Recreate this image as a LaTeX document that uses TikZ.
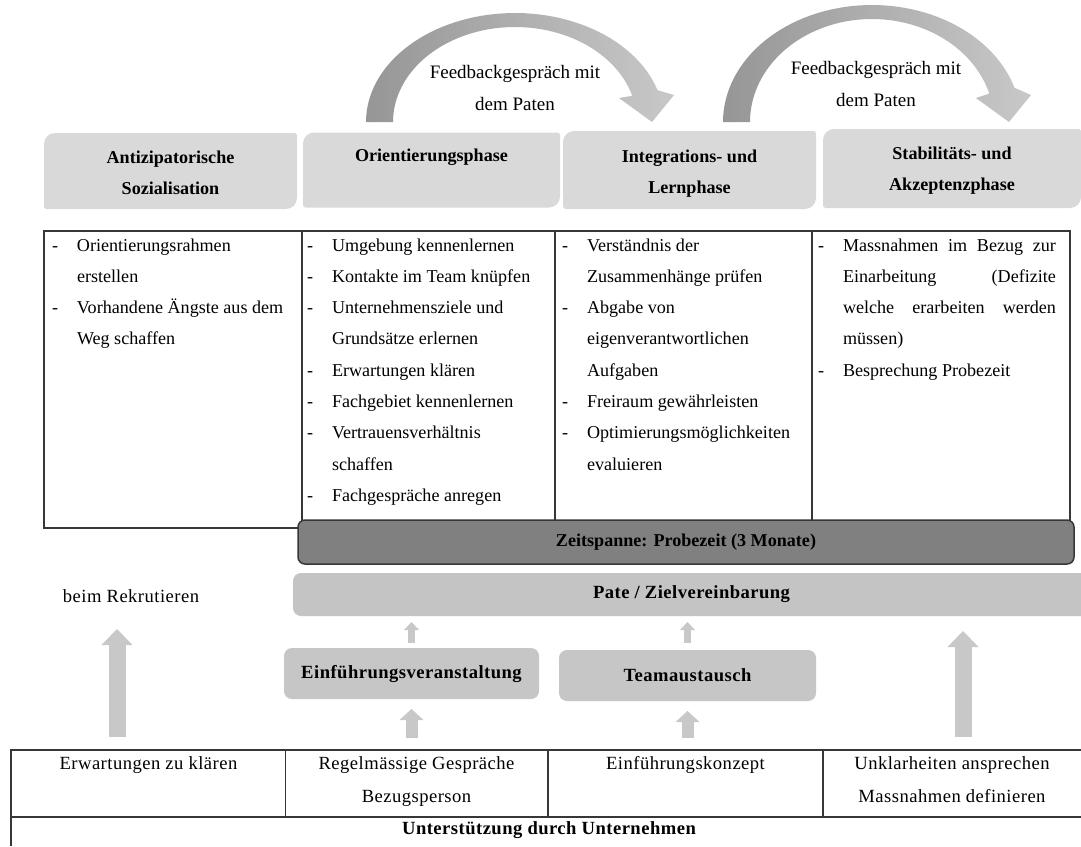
\documentclass[tikz,border=0pt]{standalone}
\usepackage{fontspec}
\setmainfont{Liberation Serif}
\usetikzlibrary{arrows.meta,backgrounds}
\definecolor{hdr}{RGB}{217,217,217}
\definecolor{patec}{RGB}{196,196,196}
\definecolor{eboxc}{RGB}{198,198,198}
\definecolor{arr}{RGB}{200,200,200}
\definecolor{darkc}{RGB}{128,128,128}
\definecolor{darkline}{RGB}{55,55,55}
\definecolor{tline}{RGB}{55,55,55}
\definecolor{fbl}{RGB}{150,150,150}
\definecolor{fbr}{RGB}{200,200,200}
\newcommand{\fsA}{\fontsize{18.1pt}{31.3pt}\selectfont}
\newcommand{\fsB}{\fontsize{18.6pt}{33pt}\selectfont\addfontfeature{LetterSpace=2.5}}
\newcommand{\fsC}{\fontsize{19pt}{32pt}\selectfont}
\newcommand{\dsh}{\makebox[25pt][l]{-}}
\newcommand{\nod}{\hspace*{25pt}}
\newcommand{\jl}[1]{\makebox[213pt][s]{#1}}
\newcommand{\hdrshape}[1]{%
  \fill[hdr] ([yshift=2pt]#1.south west) -- ([yshift=-11pt]#1.north west)
    .. controls ([yshift=-5pt]#1.north west) and ([xshift=5pt]#1.north west) .. ([xshift=11pt]#1.north west)
    -- ([xshift=-2pt]#1.north east) -- ([yshift=-2pt]#1.north east) -- ([yshift=11pt]#1.south east)
    .. controls ([yshift=5pt]#1.south east) and ([xshift=-5pt]#1.south east) .. ([xshift=-11pt]#1.south east)
    -- ([xshift=2pt]#1.south west) -- cycle;}
\newcommand{\fbarrow}[3]{%
  \shade[left color=fbl,right color=fbr]
    plot[domain=180:17,samples=60] ({#1+149*cos(\x)},{122-#2*sin(\x)})
    -- ({#1+159},95) -- ({#1+137},122) -- ({#1+104},98)
    -- plot[domain=16:180,samples=60] ({#1+122*cos(\x)},{122-#3*sin(\x)})
    -- cycle;}
\begin{document}
\begin{tikzpicture}[x=1pt,y=-1pt,
  every node/.style={inner sep=0pt,outer sep=0pt},
  hdrbox/.style={minimum height=#1},
  hdrtext/.style={align=center,font=\bfseries\fsA,anchor=north},
  cellt/.style={align=left,font=\fsA,anchor=north west},
  btext/.style={align=center,font=\fsB,anchor=north},
  fbtext/.style={align=center,font=\fsC,anchor=north},
  tbl/.style={draw=tline,line width=1.3pt},
  ebox/.style={fill=eboxc,rounded corners=8pt,font=\bfseries\fsB,minimum height=51pt},
  bigarrow/.style={draw=arr,line width=17pt,-{Triangle[width=31pt,length=16pt,line width=0pt]}},
  medarrow/.style={draw=arr,line width=12pt,-{Triangle[width=24pt,length=11pt,line width=0pt]}},
  smallarrow/.style={draw=arr,line width=7pt,-{Triangle[width=15pt,length=8pt,line width=0pt]}}]
\useasboundingbox (0,0) rectangle (1081,846);

% ---------- feedback arrows ----------
\fbarrow{515}{109}{95}
\fbarrow{872}{117}{103}
\node[fbtext] (fb1) at (515,65) {Feedbackgespräch mit\\dem Paten};
\node[fbtext] (fb2) at (876,61) {Feedbackgespräch mit\\dem Paten};

% ---------- phase headers ----------
\node[hdrbox=76pt,minimum width=253pt] (h1) at (170.5,171) {};
\node[hdrbox=75pt,minimum width=257pt] (h2) at (431.5,170) {};
\node[hdrbox=78pt,minimum width=253pt] (h3) at (689.5,170) {};
\node[hdrbox=79pt,minimum width=258pt] (h4) at (952,168.5) {};
\node[hdrtext] (h1t) at ([yshift=-18pt]h1.north) {Antizipatorische\\Sozialisation};
\node[hdrtext] (h2t) at ([yshift=-16pt]h2.north) {Orientierungsphase};
\node[hdrtext] (h3t) at ([yshift=-19pt]h3.north) {Integrations- und\\Lernphase};
\node[hdrtext] (h4t) at ([yshift=-18pt]h4.north) {Stabilitäts- und\\Akzeptenzphase};

% ---------- upper table ----------
\draw[tbl] (298,528) -- (44,528) -- (44,231) -- (1070,231) -- (1070,522);
\draw[tbl] (302,231) -- (302,522);
\draw[tbl] (555,231) -- (555,522);
\draw[tbl] (812,231) -- (812,522);
\node[cellt] (c1) at (52,238.5) {\dsh Orientierungsrahmen\\\nod erstellen\\\dsh Vorhandene Ängste aus dem\\\nod Weg schaffen};
\node[cellt] (c2) at (307,238.5) {\dsh Umgebung kennenlernen\\\dsh Kontakte im Team knüpfen\\\dsh Unternehmensziele und\\\nod Grundsätze erlernen\\\dsh Erwartungen klären\\\dsh Fachgebiet kennenlernen\\\dsh Vertrauensverhältnis\\\nod schaffen\\\dsh Fachgespräche anregen};
\node[cellt] (c3) at (562,238.5) {\dsh Verständnis der\\\nod Zusammenhänge prüfen\\\dsh Abgabe von\\\nod eigenverantwortlichen\\\nod Aufgaben\\\dsh Freiraum gewährleisten\\\dsh Optimierungsmöglichkeiten\\\nod evaluieren};
\node[cellt] (c4) at (818,238.5) {\dsh\jl{Massnahmen im Bezug zur}\\\nod\jl{Einarbeitung (Defizite}\\\nod\jl{welche erarbeiten werden}\\\nod müssen)\\\dsh Besprechung Probezeit};

% ---------- bars ----------
\node[draw=darkline,line width=1.5pt,fill=darkc,rounded corners=7pt,minimum width=776pt,minimum height=44pt,anchor=north west,font=\bfseries\fsA] (zeit) at (298,520) {Zeitspanne: Probezeit (3 Monate)};
\node[fill=patec,rounded corners=8pt,minimum width=797pt,minimum height=43pt,anchor=north west,font=\bfseries\fsB] (pate) at (293,573) {Pate / Zielvereinbarung};
\node[font=\fsB] (rekr) at (131,596) {beim Rekrutieren};

% ---------- middle boxes ----------
\node[ebox,minimum width=255pt] (ev) at (411.5,673.5) {Einführungsveranstaltung};
\node[ebox,minimum width=257pt] (tm) at (687.5,675.5) {Teamaustausch};

% ---------- arrows ----------
\coordinate (bl0) at (117,737);
\coordinate (bl1) at (117,629);
\coordinate (br0) at (963,737);
\coordinate (br1) at (963,631);
\draw[bigarrow] (bl0) -- (bl1);
\draw[bigarrow] (br0) -- (br1);
\draw[medarrow] ([yshift=-39pt]ev.south) -- ([yshift=-10pt]ev.south);
\draw[medarrow] ([yshift=-37pt]tm.south) -- ([yshift=-10pt]tm.south);
\draw[smallarrow] ([yshift=5pt]ev.north) -- ([yshift=26pt]ev.north);
\draw[smallarrow] ([yshift=7pt]tm.north) -- ([yshift=28pt]tm.north);

% ---------- bottom table ----------
\draw[tbl] (11,846) -- (11,750) -- (1081,750);
\draw[tbl] (11,817) -- (1081,817);
\draw[tbl] (285.5,750) -- (285.5,817);
\draw[tbl] (548,750) -- (548,817);
\draw[tbl] (823,750) -- (823,817);
\node[btext] (b1) at (148.5,756.5) {Erwartungen zu klären};
\node[btext] (b2) at (416.5,756.5) {Regelmässige Gespräche\\Bezugsperson};
\node[btext] (b3) at (685.5,756.5) {Einführungskonzept};
\node[btext] (b4) at (952,756.5) {Unklarheiten ansprechen\\Massnahmen definieren};
\node[btext,font=\bfseries\fsB] (b5) at (549,821.5) {Unterstützung durch Unternehmen};

% ---------- background ----------
\begin{scope}[on background layer]
  \fill[white] (0,0) rectangle (1081,846);
  \hdrshape{h1}
  \hdrshape{h2}
  \hdrshape{h3}
  \hdrshape{h4}
\end{scope}
\end{tikzpicture}
\end{document}
